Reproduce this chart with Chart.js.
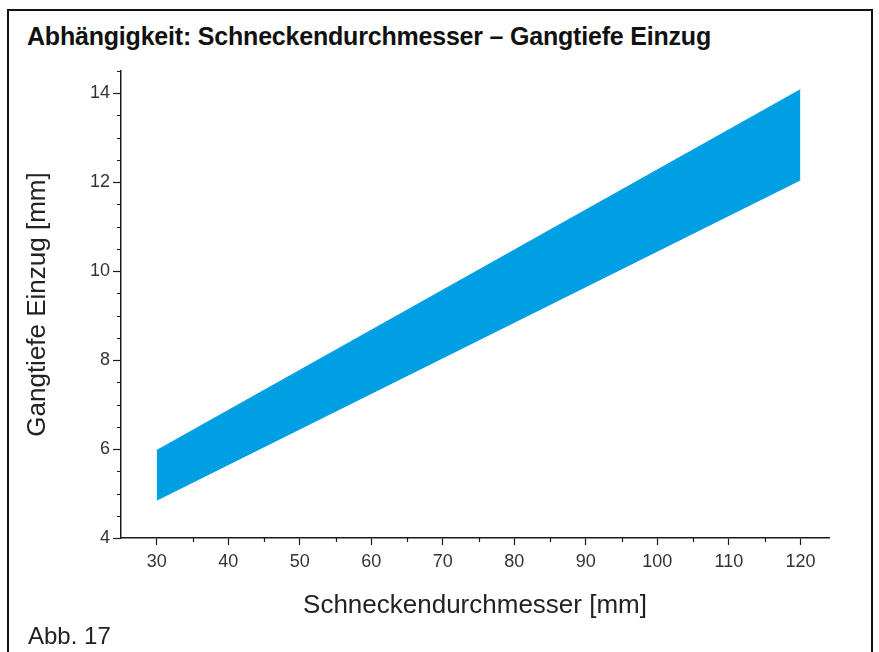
<!DOCTYPE html>
<html lang="de">
<head>
<meta charset="utf-8">
<title>Abhängigkeit: Schneckendurchmesser – Gangtiefe Einzug</title>
<script src="https://cdn.jsdelivr.net/npm/chart.js@4.4.1/dist/chart.umd.min.js"></script>
<style>
    html, body { margin: 0; padding: 0; background: #fff; }
    body { width: 879px; height: 652px; position: relative; overflow: hidden; font-family: "Liberation Sans", Arial, sans-serif; }
    .frame { position: absolute; left: 7px; top: 9px; width: 866px; height: 700px; border: 2px solid #111; box-sizing: border-box; }
    .chart-title { position: absolute; left: 27px; top: 22px; font-size: 25px; font-weight: bold; color: #111; white-space: nowrap; letter-spacing: -0.2px; }
    .caption { position: absolute; left: 28px; top: 622px; font-size: 24px; color: #222; white-space: nowrap; }
    .chart-box { position: absolute; left: 0; top: 0; width: 879px; height: 652px; }
</style>
</head>
<body>
<div class="frame"></div>
<div class="chart-title">Abhängigkeit: Schneckendurchmesser – Gangtiefe Einzug</div>
<div class="chart-box"><canvas id="bandChart" width="879" height="652"></canvas></div>
<div class="caption">Abb. 17</div>

<script>
// --- Data --- //
const diameter = [30, 120];          // Schneckendurchmesser [mm]
const depthMax = [5.97, 14.08];      // obere Grenze Gangtiefe [mm]
const depthMin = [4.85, 12.05];      // untere Grenze Gangtiefe [mm]

const xTicks = [30, 40, 50, 60, 70, 80, 90, 100, 110, 120];
const yTicks = [4, 6, 8, 10, 12, 14];

const bandColor = '#009fe3';
const axisColor = '#1a1a1a';

document.addEventListener('DOMContentLoaded', function () {
    const ctx = document.getElementById('bandChart').getContext('2d');

    // short minor tick marks between the labelled ones
    const minorTicks = {
        id: 'minorTicks',
        afterDraw(chart) {
            const c = chart.ctx;
            const xs = chart.scales.x;
            const ys = chart.scales.y;
            c.save();
            c.strokeStyle = axisColor;
            c.lineWidth = 1.2;
            c.beginPath();
            for (let v = ys.min; v <= ys.max; v += 0.5) {
                if (yTicks.includes(v)) continue;
                const py = Math.round(ys.getPixelForValue(v)) + 0.5;
                c.moveTo(xs.left - 4, py);
                c.lineTo(xs.left, py);
            }
            for (let v = 35; v < xs.max; v += 10) {
                const px = Math.round(xs.getPixelForValue(v)) + 0.5;
                c.moveTo(px, ys.bottom);
                c.lineTo(px, ys.bottom + 4);
            }
            c.stroke();
            c.restore();
        }
    };

    new Chart(ctx, {
        type: 'line',
        data: {
            datasets: [{
                label: 'max',
                data: diameter.map((d, i) => ({ x: d, y: depthMax[i] })),
                borderColor: bandColor,
                borderWidth: 1,
                backgroundColor: bandColor,
                pointRadius: 0,
                fill: '+1'
            }, {
                label: 'min',
                data: diameter.map((d, i) => ({ x: d, y: depthMin[i] })),
                borderColor: bandColor,
                borderWidth: 1,
                pointRadius: 0,
                fill: false
            }]
        },
        options: {
            responsive: false,
            animation: false,
            events: [],
            layout: { padding: { left: 20, top: 71, right: 50, bottom: 20 } },
            plugins: {
                legend: { display: false },
                tooltip: { enabled: false }
            },
            scales: {
                x: {
                    type: 'linear',
                    min: 25,
                    max: 124,
                    afterBuildTicks: scale => { scale.ticks = xTicks.map(v => ({ value: v })); },
                    afterFit: scale => { scale.height = 652 - 20 - 538; },
                    border: { display: true, color: axisColor, width: 1.5 },
                    grid: { drawOnChartArea: false, drawTicks: true, tickLength: 7, tickWidth: 1.2, tickColor: axisColor },
                    ticks: { color: '#333', padding: 6, maxRotation: 0, font: { family: 'Liberation Sans', size: 18 } },
                    title: {
                        display: true,
                        text: 'Schneckendurchmesser [mm]',
                        color: '#222',
                        padding: { top: 0, bottom: 11 },
                        font: { family: 'Liberation Sans', size: 26 }
                    }
                },
                y: {
                    min: 4,
                    max: 14.5,
                    afterBuildTicks: scale => { scale.ticks = yTicks.map(v => ({ value: v })); },
                    afterFit: scale => { scale.width = 121 - 20; },
                    border: { display: true, color: axisColor, width: 1.5 },
                    grid: { drawOnChartArea: false, drawTicks: true, tickLength: 8, tickWidth: 1.2, tickColor: axisColor },
                    ticks: { color: '#333', padding: 3, font: { family: 'Liberation Sans', size: 18 } },
                    title: {
                        display: true,
                        text: 'Gangtiefe Einzug [mm]',
                        color: '#222',
                        padding: { top: 2, bottom: 0 },
                        font: { family: 'Liberation Sans', size: 26 }
                    }
                }
            }
        },
        plugins: [minorTicks]
    });
});
</script>
</body>
</html>
